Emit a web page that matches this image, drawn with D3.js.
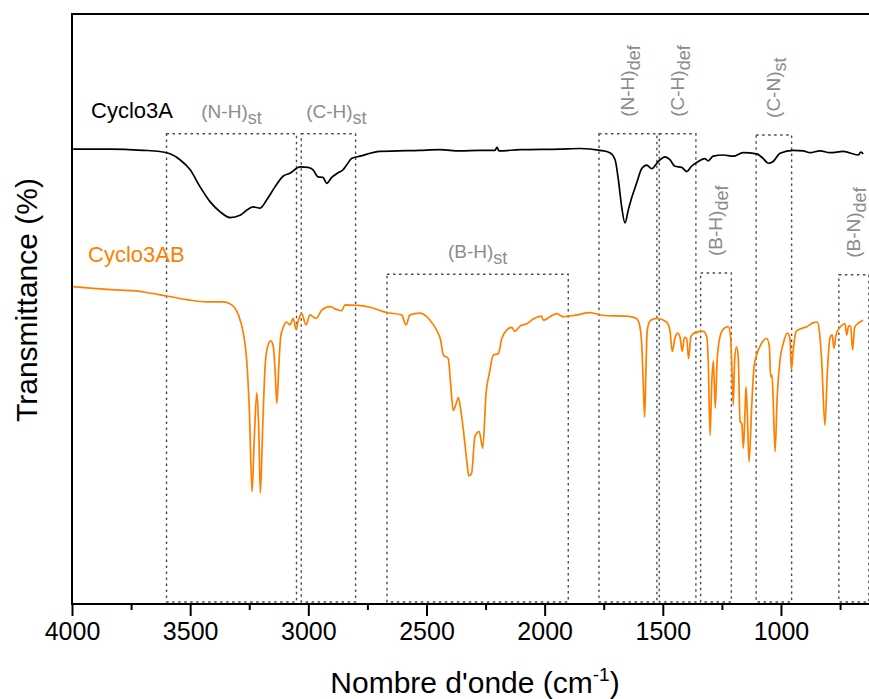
<!DOCTYPE html>
<html><head><meta charset="utf-8">
<script src="https://cdn.jsdelivr.net/npm/d3@7"></script>
<style>body{margin:0;background:#fff}svg{display:block;font-family:Arial,"Liberation Sans",sans-serif}</style>
</head><body><svg id="c" width="869" height="699"></svg>
<script>
// Wavenumber (cm-1) and transmittance (arbitrary %, offset) for each spectrum
const cyclo3A_wn = [3995,3839,3700,3628,3585,3543,3500,3458,3416,3374,3331,3289,3255,3234,3204,3176,3141,3107,3078,3035,3001,2980,2959,2938,2922,2901,2874,2853,2838,2817,2781,2697,2528,2443,2358,2274,2210,2202,2193,2104,1935,1850,1766,1724,1702,1688,1674,1660,1646,1632,1611,1589,1568,1547,1519,1491,1470,1449,1420,1399,1378,1350,1322,1308,1287,1244,1202,1160,1103,1075,1054,1033,1004,948,906,877,835,793,736,673,662,652];
const cyclo3A_T  = [77.1,77.1,76.9,76.7,76.3,75.3,73.6,70.7,68.2,66.5,65.5,65.9,66.9,67.3,67.1,68.5,70.7,72.5,73.0,74.1,74.0,73.6,72.4,72.3,71.3,72.3,73.1,73.6,74.4,75.5,75.9,76.7,76.9,77.0,76.8,76.9,76.9,77.4,76.8,77.0,77.1,77.2,76.9,76.5,75.3,71.9,67.3,64.6,66.8,68.8,71.3,73.8,74.4,73.8,75.0,75.8,75.3,74.2,74.0,73.3,74.2,75.0,75.5,75.1,75.9,76.1,75.9,76.5,76.3,75.5,74.7,75.0,76.4,76.9,76.8,76.5,76.8,76.5,76.7,76.1,76.6,76.3];

const cyclo3AB_wn = [3995,3910,3797,3741,3684,3599,3515,3430,3360,3324,3296,3275,3261,3250,3238,3229,3218,3210,3203,3193,3183,3174,3159,3148,3140,3133,3125,3117,3106,3092,3078,3064,3052,3042,3028,3010,2993,2968,2943,2908,2880,2859,2845,2789,2739,2668,2605,2587,2570,2527,2485,2457,2440,2429,2408,2398,2387,2375,2365,2355,2344,2330,2321,2309,2295,2277,2262,2248,2234,2217,2196,2182,2161,2139,2126,2104,2076,2048,2013,2006,1977,1949,1921,1864,1808,1752,1653,1611,1597,1588,1583,1577,1571,1566,1551,1526,1484,1470,1460,1449,1437,1427,1418,1409,1399,1391,1381,1364,1329,1314,1308,1300,1293,1286,1278,1270,1258,1241,1223,1213,1207,1202,1196,1188,1181,1173,1166,1159,1152,1148,1143,1135,1124,1114,1103,1082,1060,1049,1044,1038,1033,1025,1016,1004,990,973,962,956,948,936,920,891,863,846,838,828,814,804,793,783,776,767,750,729,722,714,705,697,688,673,652];
const cyclo3AB_T  = [53.8,53.5,53.2,53.1,52.8,52.2,51.6,51.2,51.2,50.7,49.0,45.9,41.4,33.4,19.0,27.8,35.8,30.1,18.8,30.1,40.2,43.3,44.6,43.6,39.1,34.0,40.2,45.3,46.9,47.8,47.3,48.4,46.6,48.1,49.2,47.3,49.0,48.4,49.8,50.4,49.9,49.7,50.7,50.6,50.3,49.4,49.0,47.3,49.0,49.3,48.1,46.4,44.7,42.2,41.6,37.4,32.8,33.9,35.0,32.9,29.5,24.4,21.7,22.2,28.4,29.2,26.4,35.7,39.1,42.2,42.4,44.9,46.4,46.9,46.2,47.1,47.5,48.3,48.8,48.1,48.7,49.2,48.7,49.0,49.4,48.9,48.8,48.4,47.0,43.1,37.7,31.7,40.2,46.4,48.1,48.4,47.8,46.4,42.8,45.0,45.9,45.2,42.8,45.2,45.0,41.6,45.3,46.0,46.2,45.3,41.4,28.6,37.4,41.2,33.2,41.4,45.3,46.7,47.0,45.3,39.1,33.7,41.4,43.6,41.9,30.9,30.6,26.4,32.9,36.8,32.9,24.1,33.4,40.2,42.2,44.2,45.0,43.6,38.5,38.8,34.6,25.8,35.1,41.4,44.2,45.9,45.0,39.7,43.1,46.2,46.6,47.0,47.7,47.8,46.4,41.4,30.3,39.1,45.0,45.6,43.3,45.6,46.9,47.5,45.6,47.1,47.1,43.1,46.9,47.6,48.1];

// Band assignment boxes: [from, to] in cm-1, top in transmittance units
const bandNames   = ["N-H","C-H","B-H","N-H","C-H","B-H","C-N","B-N"];
const bandSubs    = ["st","st","st","def","def","def","st","def"];
const bandFrom    = [3600,3030,2667,1770,1515,1340,1105,755];
const bandTo      = [3050,2800,1900,1525,1360,1210,955,628];
const bandTop     = [79.7,79.7,55.9,79.7,79.7,56.1,79.5,55.8];
const bandBottom  = 0.35;
const bandVertical= [false,false,false,true,true,true,true,true];

const seriesNames = ["Cyclo3A","Cyclo3AB"];
const seriesColors= ["#000000","#ff7f00"];
const majorTicks  = [4000,3500,3000,2500,2000,1500,1000];
const minorTicks  = [3750,3250,2750,2250,1750,1250,750];

const svg = d3.select("#c");
const x = d3.scaleLinear().domain([4000,600]).range([72,875.5]);
const y = d3.scaleLinear().domain([0,100]).range([604,14]);

// boxes
const boxes = bandFrom.map((f,i)=>({name:bandNames[i],sub:bandSubs[i],from:f,to:bandTo[i],top:bandTop[i],vert:bandVertical[i]}));
svg.append("g").selectAll("rect").data(boxes).join("rect")
  .attr("x",d=>x(d.from)).attr("y",d=>y(d.top))
  .attr("width",d=>x(d.to)-x(d.from)).attr("height",d=>y(bandBottom)-y(d.top))
  .attr("fill","none").attr("stroke","#4d4d4d").attr("stroke-width",1.4)
  .attr("stroke-dasharray","2.5,3.5");

// band labels
const lab = svg.append("g").attr("fill","#8c8c8c").attr("font-size",19);
boxes.forEach(d=>{
  const cx = (x(d.from)+x(d.to))/2;
  let t;
  if(!d.vert){
    t = lab.append("text").attr("x",cx+(d.name==="C-H"?8:0)).attr("y",y(d.top)-16).attr("text-anchor","middle");
  } else {
    t = lab.append("text").attr("transform",`translate(${cx+6},${y(d.top)-17}) rotate(-90)`).attr("text-anchor","start");
  }
  t.append("tspan").text(`(${d.name})`);
  t.append("tspan").attr("dy",6).attr("font-size",18).text(d.sub);
});

// lines
const line = d3.line().x(d=>x(d[0])).y(d=>y(d[1])).curve(d3.curveMonotoneX);
const sData = [d3.zip(cyclo3A_wn,cyclo3A_T), d3.zip(cyclo3AB_wn,cyclo3AB_T)];
sData.forEach((s,i)=>{
  svg.append("path").datum(s).attr("d",line).attr("fill","none")
    .attr("stroke",seriesColors[i]).attr("stroke-width",1.7).attr("stroke-linejoin","round");
});

// series labels
svg.append("text").attr("x",91).attr("y",118).attr("font-size",22).attr("fill",seriesColors[0]).text(seriesNames[0]);
svg.append("text").attr("x",88).attr("y",262).attr("font-size",22).attr("fill",seriesColors[1]).text(seriesNames[1]);

// axes
const gx = svg.append("g").attr("transform","translate(0,604)");
gx.call(d3.axisBottom(x).tickValues(majorTicks).tickSize(12).tickPadding(6).tickFormat(d3.format("d")));
gx.select(".domain").remove();
gx.selectAll(".tick line").attr("stroke","#000").attr("stroke-width",2);
gx.selectAll(".tick text").attr("font-size",25).attr("font-family","Arial,'Liberation Sans',sans-serif").attr("fill","#000");
const gm = svg.append("g").attr("transform","translate(0,604)");
gm.call(d3.axisBottom(x).tickValues(minorTicks).tickSize(6).tickFormat(""));
gm.select(".domain").remove();
gm.selectAll(".tick line").attr("stroke","#000").attr("stroke-width",2);

// frame lines
svg.append("line").attr("x1",72).attr("x2",869).attr("y1",604).attr("y2",604).attr("stroke","#000").attr("stroke-width",2);
svg.append("line").attr("x1",72).attr("x2",869).attr("y1",14).attr("y2",14).attr("stroke","#000").attr("stroke-width",2);
svg.append("line").attr("x1",72).attr("x2",72).attr("y1",13).attr("y2",605).attr("stroke","#000").attr("stroke-width",2);

// axis titles
const xt = svg.append("text").attr("x",475).attr("y",693).attr("text-anchor","middle").attr("font-size",30);
xt.append("tspan").text("Nombre d'onde (cm");
xt.append("tspan").attr("dy",-12).attr("font-size",19).text("-1");
xt.append("tspan").attr("dy",12).text(")");
svg.append("text").attr("transform","translate(37,300) rotate(-90)").attr("text-anchor","middle").attr("font-size",30).text("Transmittance (%)");
</script></body></html>
